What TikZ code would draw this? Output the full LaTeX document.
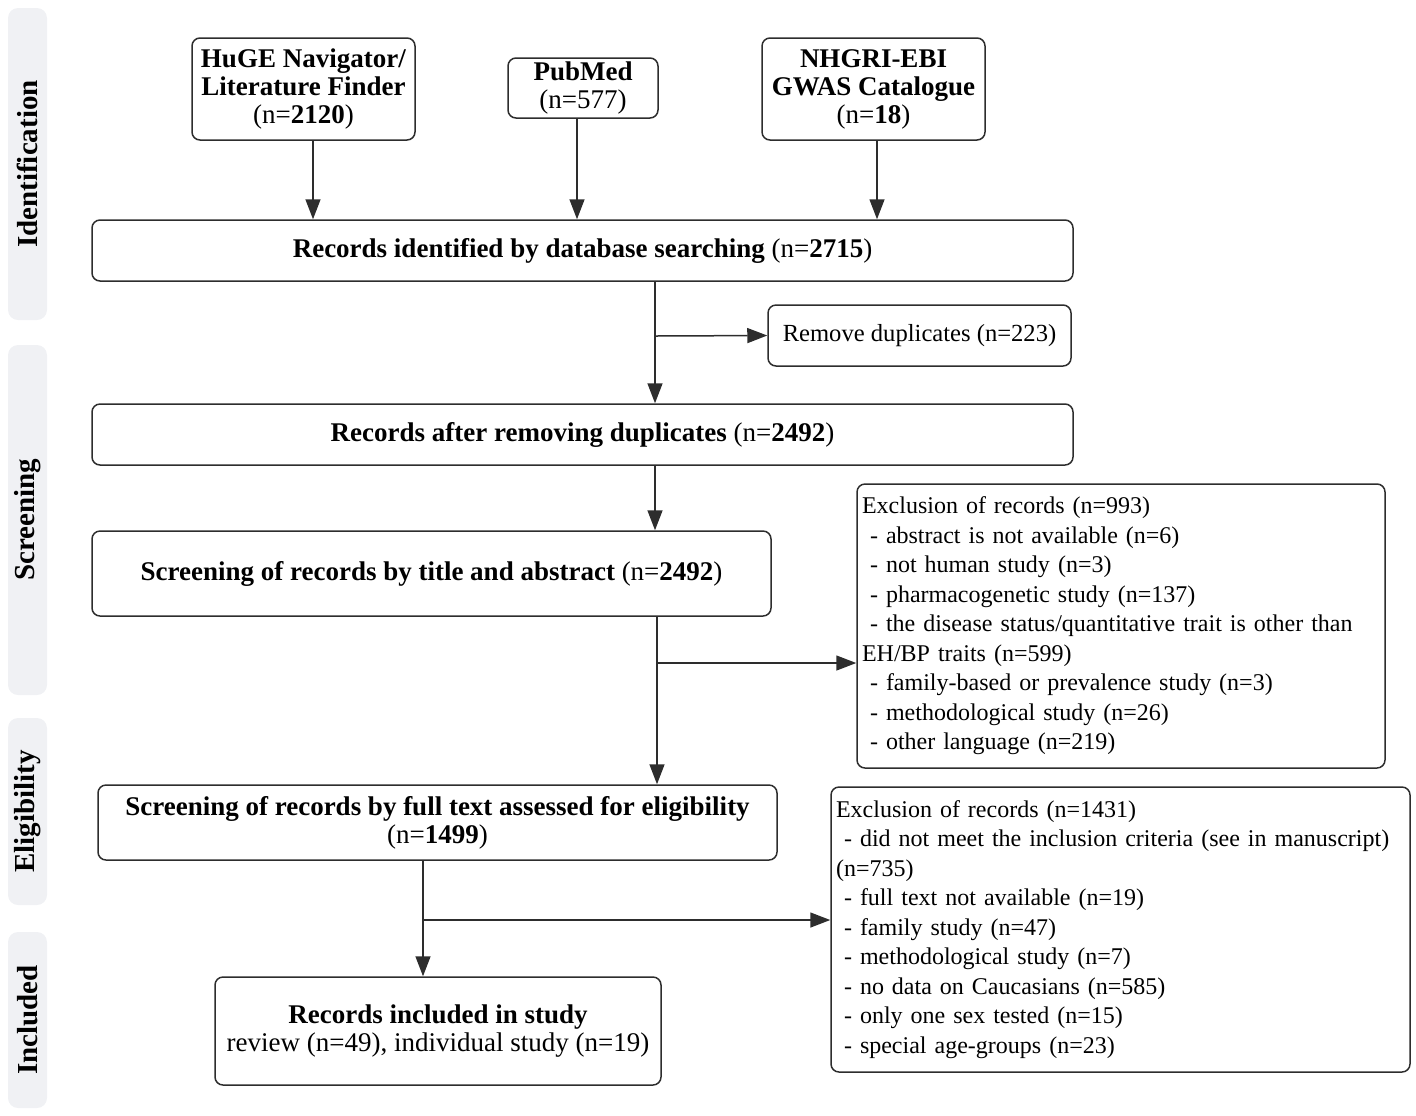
\documentclass[tikz,border=0pt]{standalone}
\usepackage{fontspec}
\setmainfont{Liberation Serif}
\usepackage{tikz}
\usetikzlibrary{arrows.meta, positioning, calc}
\usepackage{xcolor}
\definecolor{phasegray}{RGB}{240,241,244}
\definecolor{boxline}{RGB}{45,45,45}

\tikzset{
  box/.style={draw=boxline, line width=0.75pt, rounded corners=4pt, align=center,
    font=\fontsize{13.5}{14}\selectfont, inner sep=1pt},
  exclbox/.style={draw=boxline, line width=0.75pt, rounded corners=4pt, align=left,
    font=\fontsize{12}{14.75}\selectfont, inner xsep=2.5pt, inner ysep=0pt},
  phase/.style={fill=phasegray, rounded corners=5pt, draw=none},
  arr/.style={-{Triangle[length=10pt,width=7.5pt]}, line width=0.75pt, draw=boxline},
}

\begin{document}
\begin{tikzpicture}[x=0.5pt, y=-0.5pt]
  \useasboundingbox (0,0) rectangle (1416,1115);
  % Phase bars
  \foreach \ya/\yb/\lab in {8/320/Identification, 345/695/Screening, 718/905/Eligibility, 932/1108/Included} {
    \fill[phase] (8,\ya) rectangle (47,\yb);
    \node[rotate=90, font=\fontsize{14.5}{16}\selectfont\bfseries] at (27.5,{(\ya+\yb)/2}) {\lab};
  }
  % Sources
  \node[box, minimum width=111.5pt, minimum height=51pt] (huge) at (303.5,89)
    {\textbf{HuGE Navigator/}\\\textbf{Literature Finder}\\(n=\textbf{2120})};
  \node[box, minimum width=75pt, minimum height=30pt] (pubmed) at (583,88)
    {\textbf{PubMed}\\(n=577)};
  \node[box, minimum width=111.5pt, minimum height=51pt] (nhgri) at (873.5,89)
    {\textbf{NHGRI-EBI}\\\textbf{GWAS Catalogue}\\(n=\textbf{18})};
  % Main flow
  \node[box, minimum width=490.5pt, minimum height=30.5pt] (ident) at (582.5,250.5)
    {\textbf{Records identified by database searching} (n=\textbf{2715})};
  \node[box, minimum width=151.5pt, minimum height=30.5pt, font=\fontsize{12.3}{14}\selectfont] (dupl) at (919.5,335.5)
    {Remove duplicates (n=223)};
  \node[box, minimum width=490.5pt, minimum height=30.5pt] (after) at (582.5,434.5)
    {\textbf{Records after removing duplicates} (n=\textbf{2492})};
  \node[box, minimum width=339.5pt, minimum height=42.5pt] (title) at (431.5,573.5)
    {\textbf{Screening of records by title and abstract} (n=\textbf{2492})};
  \node[box, minimum width=339.5pt, minimum height=37.5pt] (full) at (437.5,822.5)
    {\textbf{Screening of records by full text assessed for eligibility}\\(n=\textbf{1499})};
  \node[box, minimum width=223pt, minimum height=54pt] (incl) at (438,1031)
    {\textbf{Records included in study}\\review (n=49), individual study (n=19)};
  % Exclusions
  \node[exclbox, text width=259pt, minimum height=142pt] (excla) at (1121,626)
    {Exclusion of records (n=993)\\
     \ - abstract is not available (n=6)\\
     \ - not human study (n=3)\\
     \ - pharmacogenetic study (n=137)\\
     \ - the disease status/quantitative trait is other than\\
     EH/BP traits (n=599)\\
     \ - family-based or prevalence study (n=3)\\
     \ - methodological study (n=26)\\
     \ - other language (n=219)};
  \node[exclbox, text width=284.5pt, minimum height=142.5pt] (exclb) at (1120.5,929.5)
    {Exclusion of records (n=1431)\\
     \ - did not meet the inclusion criteria (see in manuscript)\\
     (n=735)\\
     \ - full text not available (n=19)\\
     \ - family study (n=47)\\
     \ - methodological study (n=7)\\
     \ - no data on Caucasians (n=585)\\
     \ - only one sex tested (n=15)\\
     \ - special age-groups (n=23)};
  % Connectors
  \draw[arr] ([xshift=4.75pt]huge.south) -- ([xshift=4.75pt]huge.south |- ident.north);
  \draw[arr] ([xshift=-3pt]pubmed.south) -- ([xshift=-3pt]pubmed.south |- ident.north);
  \draw[arr] ([xshift=1.75pt]nhgri.south) -- ([xshift=1.75pt]nhgri.south |- ident.north);
  \coordinate (ba) at (655,336);
  \draw[arr] (ident.south -| ba) -- (after.north -| ba);
  \draw[arr] (ba) -- (dupl.west);
  \draw[arr] (after.south -| ba) -- (title.north -| ba);
  \coordinate (bb) at (657,663);
  \draw[arr] (title.south -| bb) -- (full.north -| bb);
  \draw[arr] (bb) -- (bb -| excla.west);
  \coordinate (bc) at (423,920);
  \draw[arr] (full.south -| bc) -- (incl.north -| bc);
  \draw[arr] (bc) -- (bc -| exclb.west);
\end{tikzpicture}
\end{document}
